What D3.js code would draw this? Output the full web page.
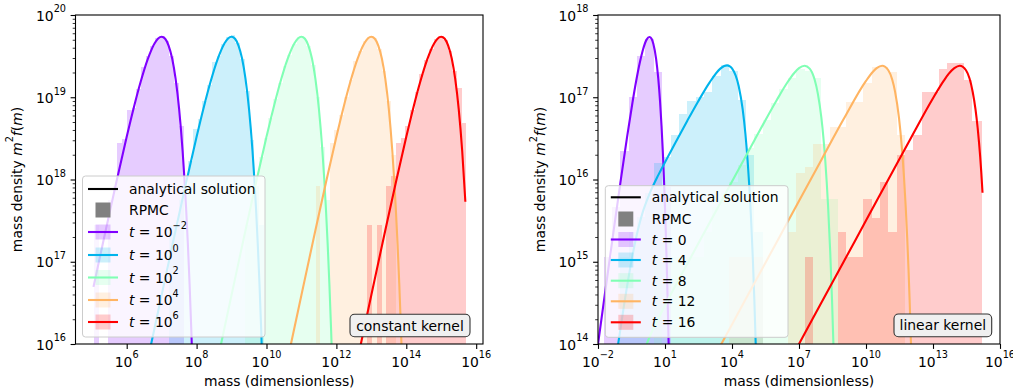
<!DOCTYPE html>
<html>
<head>
<meta charset="utf-8">
<script src="https://cdn.jsdelivr.net/npm/d3@7"></script>
<style>
  body { margin: 0; background: #fff; }
  svg text { font-family: "DejaVu Sans", sans-serif; fill: #000; white-space: pre; }
</style>
</head>
<body>
<div id="chart"></div>
<script>
// series colours (matplotlib "rainbow" at 0, .25, .5, .75, 1)
const colors = ["#8000ff", "#00b4ec", "#80ffb4", "#ffb462", "#ff0000"];

// legend labels
const constTimes = ["\u22122", "0", "2", "4", "6"];   // t = 10^k
const linearTimes = ["0", "4", "8", "12", "16"];

// tick values
const constXTicks = [1e6, 1e8, 1e10, 1e12, 1e14, 1e16];
const linearXTicks = [1e-2, 1e1, 1e4, 1e7, 1e10, 1e13, 1e16];
const constYTicks = [1e16, 1e17, 1e18, 1e19, 1e20];
const linearYTicks = [1e14, 1e15, 1e16, 1e17, 1e18];

// ---- constant kernel: analytical curves [mass, m^2 f(m)] ----
const constCurve0 = [[1.12e5,4.95e16],[2.51e5,2.42e17],[5.01e5,9.14e17],[1e6,3.3e18],[1.58e6,7.36e18],[2.51e6,1.54e19],[3.98e6,2.88e19],[6.31e6,4.53e19],[7.94e6,5.19e19],[1e7,5.45e19],[1.26e7,5.14e19],[1.58e7,4.25e19],[2.0e7,2.96e19],[2.51e7,1.67e19],[3.16e7,7.21e18],[3.98e7,2.22e18],[5.01e7,4.48e17],[5.62e7,1.66e17],[6.31e7,5.3e16],[7.08e7,1.43e16],[7.94e7,3.2e15]];
const constCurve1 = [[3.16e6,4.0e15],[5.01e6,1.0e16],[1e7,3.94e16],[2.51e7,2.42e17],[5.01e7,9.14e17],[1e8,3.3e18],[1.58e8,7.36e18],[2.51e8,1.54e19],[3.98e8,2.88e19],[6.31e8,4.53e19],[7.94e8,5.19e19],[1e9,5.45e19],[1.26e9,5.14e19],[1.58e9,4.25e19],[2.0e9,2.96e19],[2.51e9,1.67e19],[3.16e9,7.21e18],[3.98e9,2.22e18],[5.01e9,4.48e17],[5.62e9,1.66e17],[6.31e9,5.3e16],[7.08e9,1.43e16],[7.94e9,3.2e15]];
const constCurve2 = [[3.16e8,4.0e15],[5.01e8,1.0e16],[1e9,3.94e16],[2.51e9,2.42e17],[5.01e9,9.14e17],[1e10,3.3e18],[1.58e10,7.36e18],[2.51e10,1.54e19],[3.98e10,2.88e19],[6.31e10,4.53e19],[7.94e10,5.19e19],[1e11,5.45e19],[1.26e11,5.14e19],[1.58e11,4.25e19],[2.0e11,2.96e19],[2.51e11,1.67e19],[3.16e11,7.21e18],[3.98e11,2.22e18],[5.01e11,4.48e17],[5.62e11,1.66e17],[6.31e11,5.3e16],[7.08e11,1.43e16],[7.94e11,3.2e15]];
const constCurve3 = [[3.16e10,4.0e15],[5.01e10,1.0e16],[1e11,3.94e16],[2.51e11,2.42e17],[5.01e11,9.14e17],[1e12,3.3e18],[1.58e12,7.36e18],[2.51e12,1.54e19],[3.98e12,2.88e19],[6.31e12,4.53e19],[7.94e12,5.19e19],[1e13,5.45e19],[1.26e13,5.14e19],[1.58e13,4.25e19],[2.0e13,2.96e19],[2.51e13,1.67e19],[3.16e13,7.21e18],[3.98e13,2.22e18],[5.01e13,4.48e17],[5.62e13,1.66e17],[6.31e13,5.3e16],[7.08e13,1.43e16],[7.94e13,3.2e15]];
const constCurve4 = [[3.16e12,4.0e15],[5.01e12,1.0e16],[1e13,3.94e16],[2.51e13,2.42e17],[5.01e13,9.14e17],[1e14,3.3e18],[1.58e14,7.36e18],[2.51e14,1.54e19],[3.98e14,2.88e19],[6.31e14,4.53e19],[7.94e14,5.19e19],[1e15,5.45e19],[1.26e15,5.14e19],[1.58e15,4.25e19],[2.0e15,2.96e19],[2.51e15,1.67e19],[3.16e15,7.21e18],[3.98e15,2.22e18],[4.9e15,5.37e17]];

// ---- constant kernel: RPMC histograms [mass from, mass to, m^2 f(m)] ----
const constHist0 = [[1.15e5,1.57e5,2.8e17],[2.92e5,3.98e5,5.6e17],[3.98e5,5.43e5,8.4e17],[5.43e5,7.41e5,2.8e18],[7.41e5,1.01e6,3.1e18],[1.01e6,1.38e6,7.0e18],[1.38e6,1.88e6,7.3e18],[1.88e6,2.57e6,1.26e19],[2.57e6,3.51e6,2.3e19],[3.51e6,4.79e6,3.2e19],[4.79e6,6.53e6,4.2e19],[6.53e6,8.91e6,5.2e19],[8.91e6,1.22e7,5.6e19],[1.22e7,1.66e7,4.8e19],[1.66e7,2.26e7,3.2e19],[2.26e7,3.09e7,1.5e19],[3.09e7,4.22e7,4.5e18]];
const constHist1 = [[1.66e7,2.26e7,2.8e17],[2.26e7,3.09e7,2.8e17],[3.09e7,4.22e7,5.6e17],[4.22e7,5.75e7,8.4e17],[5.75e7,7.85e7,1.7e18],[7.85e7,1.07e8,4.1e18],[1.07e8,1.46e8,5.5e18],[1.46e8,2.0e8,9.0e18],[2.0e8,2.72e8,1.4e19],[2.72e8,3.72e8,2.7e19],[3.72e8,5.07e8,3.2e19],[5.07e8,6.92e8,4.4e19],[6.92e8,9.44e8,5.4e19],[9.44e8,1.29e9,5.7e19],[1.29e9,1.76e9,4.6e19],[1.76e9,2.4e9,2.9e19],[2.4e9,3.27e9,1.2e19],[3.27e9,4.47e9,3.0e18],[4.47e9,6.1e9,8.4e17],[6.1e9,8.32e9,2.8e17]];
const constHist2 = [[2.4e9,3.27e9,2.8e17],[3.27e9,4.47e9,5.6e17],[4.47e9,6.1e9,1.1e18],[6.1e9,8.32e9,1.9e18],[8.32e9,1.14e10,3.2e18],[1.14e10,1.55e10,5.6e18],[1.55e10,2.11e10,9.5e18],[2.11e10,2.88e10,1.5e19],[2.88e10,3.94e10,2.4e19],[3.94e10,5.37e10,3.3e19],[5.37e10,7.33e10,4.5e19],[7.33e10,1.0e11,5.4e19],[1.0e11,1.36e11,5.3e19],[1.36e11,1.86e11,4.2e19],[1.86e11,2.54e11,2.5e19],[2.54e11,3.47e11,1.0e19],[3.47e11,4.73e11,2.5e18],[4.73e11,6.46e11,5.6e17]];
const constHist3 = [[2.54e11,3.47e11,8.4e17],[6.46e11,8.81e11,2.8e18],[8.81e11,1.2e12,4.0e18],[1.2e12,1.64e12,6.0e18],[1.64e12,2.24e12,1.0e19],[2.24e12,3.05e12,1.6e19],[3.05e12,4.17e12,2.75e19],[4.17e12,5.69e12,3.6e19],[5.69e12,7.76e12,4.8e19],[7.76e12,1.06e13,5.4e19],[1.06e13,1.45e13,5.3e19],[1.45e13,1.97e13,3.9e19],[1.97e13,2.69e13,2.1e19],[2.69e13,3.67e13,9.0e18],[3.67e13,5.01e13,2.0e18]];
const constHist4 = [[7.76e12,1.06e13,2.8e17],[1.45e13,1.97e13,2.8e17],[2.69e13,3.67e13,8.4e17],[3.67e13,5.01e13,1.1e18],[5.01e13,6.84e13,2.8e18],[6.84e13,9.33e13,3.2e18],[9.33e13,1.27e14,4.5e18],[1.27e14,1.74e14,7.0e18],[1.74e14,2.37e14,1.15e19],[2.37e14,3.24e14,1.9e19],[3.24e14,4.42e14,2.8e19],[4.42e14,6.03e14,3.9e19],[6.03e14,8.22e14,5.1e19],[8.22e14,1.12e15,5.6e19],[1.12e15,1.53e15,5.0e19],[1.53e15,2.09e15,3.7e19],[2.09e15,2.85e15,2.1e19],[2.85e15,3.89e15,1.3e19],[3.89e15,4.95e15,4.9e18]];

// ---- linear kernel: analytical curves ----
const linCurve0 = [[0.01,9.9e13],[0.02,3.92e14],[0.05,2.38e15],[0.1,9.05e15],[0.2,3.28e16],[0.35,8.63e16],[0.5,1.52e17],[0.75,2.66e17],[1,3.68e17],[1.5,5.02e17],[2,5.41e17],[2.5,5.13e17],[3,4.48e17],[4,2.93e17],[5,1.68e17],[6,8.92e16],[7,4.47e16],[8,2.15e16],[9,1.0e16],[10,4.54e15],[11,2.02e15],[12,8.85e14],[13,3.82e14],[14,1.63e14],[15,6.88e13]];
const linCurve1 = [[0.05,4.15e13],[0.08,1.0e14],[0.15,3.1e14],[0.3,9.5e14],[0.6,2.38e15],[1,3.98e15],[2,6.63e15],[5,1.13e16],[10,1.62e16],[30,2.84e16],[100,5.19e16],[300,8.84e16],[1000,1.52e17],[3000,2.23e17],[4500,2.40e17],[6000,2.44e17],[8000,2.38e17],[1e4,2.25e17],[2e4,1.36e17],[3e4,7.16e16],[4e4,3.55e16],[5e4,1.70e16],[6e4,8.0e15],[7e4,3.7e15],[8.5e4,1.15e15],[1e5,3.49e14],[1.2e5,7.0e13]];
const linCurve2 = [[1.2,8.4e13],[1.5,9.9e13],[2,1.2e14],[5,2.03e14],[10,2.94e14],[100,9.45e14],[1e3,2.99e15],[1e4,9.46e15],[1e5,2.98e16],[1e6,9.2e16],[3e6,1.51e17],[6e6,1.96e17],[1e7,2.26e17],[1.78e7,2.42e17],[3e7,2.23e17],[5e7,1.64e17],[7e7,1.10e17],[1e8,5.68e16],[1.25e8,3.14e16],[1.5e8,1.7e16],[2e8,4.81e15],[2.5e8,1.32e15],[3e8,3.54e14],[3.5e8,9.36e13]];
const linCurve3 = [[3e3,9.49e13],[1e4,1.73e14],[1e5,5.48e14],[1e6,1.73e15],[1e7,5.48e15],[1e8,1.73e16],[1e9,5.43e16],[1e10,1.58e17],[2e10,2.03e17],[3e10,2.26e17],[5.3e10,2.42e17],[1e11,2.13e17],[1.5e11,1.63e17],[2e11,1.17e17],[3e11,5.6e16],[4e11,2.51e16],[5e11,1.09e16],[6e11,4.66e15],[7e11,1.96e15],[8e11,8.15e14],[9e11,3.37e14],[1.05e12,8.8e13]];
const linCurve4 = [[5e6,7.1e13],[1e7,1.0e14],[1e8,3.17e14],[1e9,1.0e15],[1e10,3.17e15],[1e11,1.0e16],[1e12,3.16e16],[1e13,9.73e16],[3e13,1.58e17],[5e13,1.92e17],[9e13,2.26e17],[1.58e14,2.42e17],[3e14,2.13e17],[6e14,1.16e17],[8e14,7.13e16],[1e15,4.23e16],[1.15e15,2.82e16],[1.3e15,1.87e16],[1.45e15,1.23e16],[1.65e15,6.9e15]];

// ---- linear kernel: RPMC histograms ----
const linHist0 = [[1.78e-2,4.22e-2,1.15e15],[4.22e-2,0.1,4.6e15],[0.1,0.237,2.2e16],[0.237,0.562,1.0e17],[0.562,1.33,3.2e17],[1.33,3.16,5.1e17],[3.16,7.5,2.0e17],[7.5,17.8,8.0e15]];
const linHist1 = [[0.1,0.237,1.15e15],[0.237,0.562,2.3e15],[0.562,1.33,3.5e15],[1.33,3.16,6.9e15],[3.16,7.5,1.6e16],[7.5,17.8,1.9e16],[17.8,42.2,3.5e16],[42.2,100,6.3e16],[100,237,9.0e16],[237,562,1.0e17],[562,1330,1.15e17],[1330,3160,1.8e17],[3160,7500,2.45e17],[7500,1.78e4,2.1e17],[1.78e4,4.22e4,9.3e16],[4.22e4,1e5,2.0e16],[1e5,2.37e5,2.3e15]];
const linHist2 = [[3.16,7.5,1.15e15],[17.8,42.2,1.15e15],[42.2,100,1.15e15],[100,237,1.15e15],[237,562,1.15e15],[562,1330,2.3e15],[1330,3160,4.6e15],[3160,7500,6.9e15],[7500,1.78e4,9.2e15],[1.78e4,4.22e4,1.5e16],[4.22e4,1e5,2.4e16],[1e5,2.37e5,3.6e16],[2.37e5,5.62e5,5.3e16],[5.62e5,1.33e6,8.5e16],[1.33e6,3.16e6,1.25e17],[3.16e6,7.5e6,1.7e17],[7.5e6,1.78e7,2.2e17],[1.78e7,4.22e7,2.1e17],[4.22e7,1e8,1.7e17],[1e8,2.37e8,5.8e15],[2.37e8,5.62e8,5.8e15]];
const linHist3 = [[7500,1.78e4,1.15e15],[1.78e4,4.22e4,1.15e15],[4.22e4,1e5,1.15e15],[1e5,2.37e5,1.15e15],[3.16e6,7.5e6,2.3e15],[7.5e6,1.78e7,1.2e16],[1.78e7,4.22e7,1.4e16],[4.22e7,1e8,2.7e16],[1e8,2.37e8,2.7e16],[2.37e8,5.62e8,4.3e16],[5.62e8,1.33e9,4.3e16],[1.33e9,3.16e9,8.7e16],[3.16e9,7.5e9,8.7e16],[7.5e9,1.78e10,1.5e17],[1.78e10,4.22e10,2.35e17],[4.22e10,1e11,2.35e17],[1e11,2.37e11,2.0e17],[2.37e11,5.62e11,3.5e16]];
const linHist4 = [[1.78e7,4.22e7,1.15e15],[5.62e8,1.33e9,2.3e15],[1.33e9,3.16e9,1.15e15],[3.16e9,7.5e9,1.15e15],[7.5e9,1.78e10,5.8e15],[1.78e10,4.22e10,3.45e15],[4.22e10,1e11,9.2e15],[1e11,2.37e11,2.3e15],[2.37e11,5.62e11,2.0e16],[5.62e11,1.33e12,2.3e16],[1.33e12,3.16e12,3.5e16],[3.16e12,7.5e12,1.15e17],[7.5e12,1.78e13,1.15e17],[1.78e13,4.22e13,2.2e17],[4.22e13,1e14,2.6e17],[1e14,2.37e14,2.6e17],[2.37e14,5.62e14,1.6e17],[5.62e14,1.55e15,5.1e16]];

const FS = 13.9;
const W = 1013, H = 392;

const svg = d3.select("#chart").append("svg")
  .attr("width", W).attr("height", H)
  .attr("viewBox", `0 0 ${W} ${H}`);

// text with mathtext-like italics and superscripts
function richText(parent, x, y, parts, anchor) {
  const t = parent.append("text")
    .attr("x", x).attr("y", y)
    .attr("text-anchor", anchor)
    .style("font-size", FS + "px");
  let up = false;
  parts.forEach(p => {
    const s = t.append("tspan").text(p.t);
    if (p.it) s.style("font-style", "italic");
    if (p.sup) {
      s.style("font-size", (FS * 0.7) + "px");
      if (!up) { s.attr("dy", -0.58 * FS); up = true; }
    } else if (up) {
      s.attr("dy", 0.58 * FS); up = false;
    }
  });
  return t;
}

const expOf = v => {
  const e = Math.round(Math.log10(v));
  return e < 0 ? "\u2212" + (-e) : String(e);
};

function panel(cfg) {
  const x = d3.scaleLog().domain(cfg.xDomain).range([cfg.left, cfg.right]);
  const y = d3.scaleLog().domain(cfg.yDomain).range([cfg.bottom, cfg.top]);
  const g = svg.append("g");

  svg.append("clipPath").attr("id", "clip-" + cfg.id)
    .append("rect")
    .attr("x", cfg.left).attr("y", cfg.top)
    .attr("width", cfg.right - cfg.left).attr("height", cfg.bottom - cfg.top);

  const plot = g.append("g").attr("clip-path", `url(#clip-${cfg.id})`);

  // RPMC histograms
  cfg.hists.forEach((bars, i) => {
    plot.append("g").selectAll("rect").data(bars).join("rect")
      .attr("x", d => x(d[0]))
      .attr("width", d => x(d[1]) - x(d[0]))
      .attr("y", d => y(d[2]))
      .attr("height", d => cfg.bottom - y(d[2]))
      .attr("fill", colors[i])
      .attr("fill-opacity", 0.2)
      .attr("shape-rendering", "crispEdges");
  });

  // analytical solutions
  const line = d3.line()
    .x(d => x(d[0]))
    .y(d => y(d[1]))
    .curve(d3.curveMonotoneX);
  cfg.curves.forEach((pts, i) => {
    plot.append("path").datum(pts)
      .attr("d", line)
      .attr("fill", "none")
      .attr("stroke", colors[i])
      .attr("stroke-width", 2.1);
  });

  // axes
  const minors = y.ticks().filter(v => !cfg.yTicks.some(t => Math.abs(v / t - 1) < 1e-6));
  g.append("g").attr("transform", `translate(${cfg.left},0)`)
    .call(d3.axisLeft(y).tickValues(minors).tickSize(2.8).tickSizeOuter(0).tickFormat(""))
    .call(a => a.select(".domain").remove())
    .call(a => a.selectAll("line").attr("stroke-width", 0.8));
  g.append("g").attr("transform", `translate(${cfg.left},0)`)
    .call(d3.axisLeft(y).tickValues(cfg.yTicks).tickSize(4.9).tickSizeOuter(0).tickFormat(""))
    .call(a => a.select(".domain").remove())
    .call(a => a.selectAll("line").attr("stroke-width", 1.1));
  g.append("g").attr("transform", `translate(0,${cfg.bottom})`)
    .call(d3.axisBottom(x).tickValues(cfg.xTicks).tickSize(4.9).tickSizeOuter(0).tickFormat(""))
    .call(a => a.select(".domain").remove())
    .call(a => a.selectAll("line").attr("stroke-width", 1.1));

  cfg.yTicks.forEach(v => {
    richText(g, cfg.left - 9.5, y(v) + 5.5, [{ t: "10" }, { t: expOf(v), sup: true }], "end");
  });
  cfg.xTicks.forEach(v => {
    richText(g, x(v), cfg.bottom + 22.5, [{ t: "10" }, { t: expOf(v), sup: true }], "middle");
  });

  g.append("rect")
    .attr("x", cfg.left).attr("y", cfg.top)
    .attr("width", cfg.right - cfg.left).attr("height", cfg.bottom - cfg.top)
    .attr("fill", "none").attr("stroke", "#000").attr("stroke-width", 1.1);

  // axis labels
  richText(g, (cfg.left + cfg.right) / 2, 386, [{ t: "mass (dimensionless)" }], "middle");
  const yl = g.append("g")
    .attr("transform", `translate(${cfg.yLabelX},${(cfg.top + cfg.bottom) / 2}) rotate(-90)`);
  richText(yl, 0, 0, [
    { t: "mass density " }, { t: "m", it: true }, { t: "2", sup: true },
    { t: "f", it: true }, { t: "(" }, { t: "m", it: true }, { t: ")" }
  ], "middle");

  // legend
  const L = cfg.legend;
  const lg = g.append("g");
  lg.append("rect")
    .attr("x", L.x).attr("y", L.y).attr("width", L.w).attr("height", L.h)
    .attr("rx", 3)
    .attr("fill", "#fff").attr("fill-opacity", 0.8)
    .attr("stroke", "#cccccc").attr("stroke-width", 1);
  const hx0 = L.x + 5.5, hx1 = L.x + 35.5, hc = (hx0 + hx1) / 2, tx = L.x + 46.5;
  lg.append("line").attr("x1", hx0).attr("x2", hx1)
    .attr("y1", L.rows[0]).attr("y2", L.rows[0])
    .attr("stroke", "#000").attr("stroke-width", 2.1);
  richText(lg, tx, L.rows[0] + 5, [{ t: "analytical solution" }], "start");
  lg.append("rect").attr("x", hc - 7.5).attr("y", L.rows[1] - 7.5)
    .attr("width", 15).attr("height", 15).attr("fill", "#808080");
  richText(lg, tx, L.rows[1] + 5, [{ t: "RPMC" }], "start");
  cfg.times.forEach((tm, i) => {
    const ry = L.rows[i + 2];
    lg.append("rect").attr("x", hc - 7.5).attr("y", ry - 7.5)
      .attr("width", 15).attr("height", 15)
      .attr("fill", colors[i]).attr("fill-opacity", 0.2);
    lg.append("line").attr("x1", hx0).attr("x2", hx1)
      .attr("y1", ry).attr("y2", ry)
      .attr("stroke", colors[i]).attr("stroke-width", 2.1);
    const parts = cfg.powerTimes
      ? [{ t: "t", it: true }, { t: " = 10" }, { t: tm, sup: true }]
      : [{ t: "t", it: true }, { t: " = " + tm }];
    richText(lg, tx, ry + 5, parts, "start");
  });

  // kernel label
  const K = cfg.kernel;
  g.append("rect")
    .attr("x", K.x).attr("y", K.y).attr("width", K.w).attr("height", K.h)
    .attr("rx", 4.5)
    .attr("fill", "#f0f0f0").attr("stroke", "#333").attr("stroke-width", 1.1);
  richText(g, K.x + K.w / 2, K.y + K.h / 2 + 5, [{ t: K.text }], "middle");
}

panel({
  id: "const", left: 75.5, right: 483, top: 15, bottom: 344,
  xDomain: [Math.pow(10, 4.535), Math.pow(10, 16.195)], yDomain: [1e16, 1e20],
  xTicks: constXTicks, yTicks: constYTicks,
  curves: [constCurve0, constCurve1, constCurve2, constCurve3, constCurve4],
  hists: [constHist0, constHist1, constHist2, constHist3, constHist4],
  times: constTimes, powerTimes: true, yLabelX: 21.5,
  legend: { x: 82.5, y: 176, w: 182.5, h: 161, rows: [189, 210, 232, 255, 277.5, 300, 322] },
  kernel: { x: 350, y: 314.3, w: 120, h: 22.4, text: "constant kernel" }
});

panel({
  id: "lin", left: 598, right: 1000, top: 15, bottom: 344,
  xDomain: [1e-2, 1e16], yDomain: [1e14, 1e18],
  xTicks: linearXTicks, yTicks: linearYTicks,
  curves: [linCurve0, linCurve1, linCurve2, linCurve3, linCurve4],
  hists: [linHist0, linHist1, linHist2, linHist3, linHist4],
  times: linearTimes, powerTimes: false, yLabelX: 545,
  legend: { x: 605.3, y: 185.7, w: 182.7, h: 151.6, rows: [197.3, 219, 239.5, 260, 280.7, 301.3, 322.3] },
  kernel: { x: 894, y: 314, w: 97.7, h: 22.7, text: "linear kernel" }
});
</script>
</body>
</html>
